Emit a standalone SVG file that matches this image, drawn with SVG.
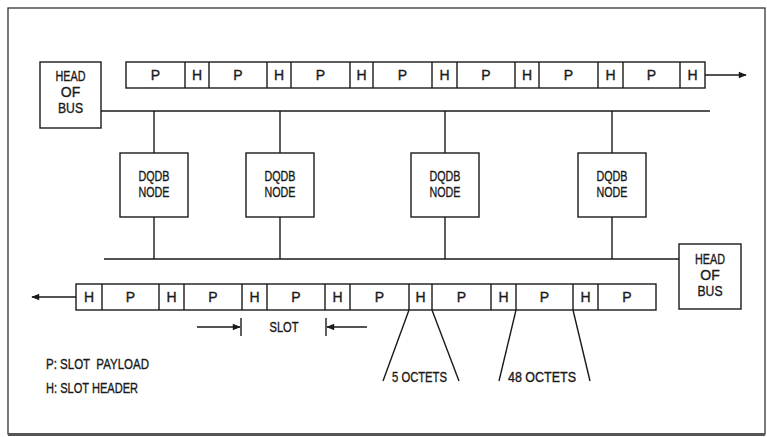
<svg xmlns="http://www.w3.org/2000/svg" width="767" height="437" viewBox="0 0 767 437">
<defs>
<style>
.t{font-family:"Liberation Sans Narrow","Liberation Sans",Arial,sans-serif;font-size:14px;fill:#1a1a1a;stroke:#1a1a1a;stroke-width:0.35;text-anchor:middle}
.l{text-anchor:start}
.box{fill:#fff;stroke:#1a1a1a;stroke-width:1.4}
.ln{fill:none;stroke:#1a1a1a;stroke-width:1.4}
.cell{fill:none;stroke:#1a1a1a;stroke-width:1.4}
</style>
<marker id="ah" viewBox="0 0 10 10" refX="9" refY="5" markerWidth="11" markerHeight="8" markerUnits="userSpaceOnUse" orient="auto">
<path d="M0,1 L10,5 L0,9 Z" fill="#1a1a1a"/>
</marker>
</defs>
<rect x="0" y="0" width="767" height="437" fill="#fff"/>
<rect x="8" y="8" width="757" height="426" fill="none" stroke="#333" stroke-width="1.3"/>
<line x1="8" y1="434.5" x2="765" y2="434.5" stroke="#555" stroke-width="3"/>

<g id="connectors">
<line class="ln" x1="100" y1="111" x2="710" y2="111"/>
<line class="ln" x1="104" y1="259" x2="679" y2="259"/>
<line class="ln" x1="154" y1="111" x2="154" y2="153"/>
<line class="ln" x1="280" y1="111" x2="280" y2="153"/>
<line class="ln" x1="445" y1="111" x2="445" y2="153"/>
<line class="ln" x1="612" y1="111" x2="612" y2="153"/>
<line class="ln" x1="154" y1="217" x2="154" y2="259"/>
<line class="ln" x1="280" y1="217" x2="280" y2="259"/>
<line class="ln" x1="445" y1="217" x2="445" y2="259"/>
<line class="ln" x1="612" y1="217" x2="612" y2="259"/>
<line class="ln" x1="705" y1="75" x2="746" y2="75" marker-end="url(#ah)"/>
<line class="ln" x1="76" y1="297" x2="32" y2="297" marker-end="url(#ah)"/>
<line class="ln" x1="197" y1="327" x2="240" y2="327" marker-end="url(#ah)"/>
<line class="ln" x1="367" y1="327" x2="327" y2="327" marker-end="url(#ah)"/>
<line class="ln" x1="241" y1="318" x2="241" y2="336"/>
<line class="ln" x1="326" y1="318" x2="326" y2="336"/>
<line class="ln" x1="409" y1="310" x2="383" y2="381"/>
<line class="ln" x1="432" y1="310" x2="459" y2="381"/>
<line class="ln" x1="516" y1="310" x2="499" y2="381"/>
<line class="ln" x1="573" y1="310" x2="590" y2="381"/>
</g>

<g id="head-top">
<rect class="box" x="40" y="62" width="61" height="66"/>
<text class="t" x="70.5" y="81" textLength="30" lengthAdjust="spacingAndGlyphs">HEAD</text>
<text class="t" x="70.5" y="97">OF</text>
<text class="t" x="70.5" y="113" textLength="25" lengthAdjust="spacingAndGlyphs">BUS</text>
</g>

<g id="head-bottom">
<rect class="box" x="679" y="244" width="62" height="65"/>
<text class="t" x="710" y="264" textLength="30" lengthAdjust="spacingAndGlyphs">HEAD</text>
<text class="t" x="710" y="280">OF</text>
<text class="t" x="710" y="296" textLength="25" lengthAdjust="spacingAndGlyphs">BUS</text>
</g>

<g id="node1">
<rect class="box" x="120" y="153" width="68" height="64"/>
<text class="t" x="154" y="181" textLength="31" lengthAdjust="spacingAndGlyphs">DQDB</text>
<text class="t" x="154" y="197" textLength="31" lengthAdjust="spacingAndGlyphs">NODE</text>
</g>
<g id="node2">
<rect class="box" x="246" y="153" width="68" height="64"/>
<text class="t" x="280" y="181" textLength="31" lengthAdjust="spacingAndGlyphs">DQDB</text>
<text class="t" x="280" y="197" textLength="31" lengthAdjust="spacingAndGlyphs">NODE</text>
</g>
<g id="node3">
<rect class="box" x="411" y="153" width="68" height="64"/>
<text class="t" x="445" y="181" textLength="31" lengthAdjust="spacingAndGlyphs">DQDB</text>
<text class="t" x="445" y="197" textLength="31" lengthAdjust="spacingAndGlyphs">NODE</text>
</g>
<g id="node4">
<rect class="box" x="578" y="153" width="68" height="64"/>
<text class="t" x="612" y="181" textLength="31" lengthAdjust="spacingAndGlyphs">DQDB</text>
<text class="t" x="612" y="197" textLength="31" lengthAdjust="spacingAndGlyphs">NODE</text>
</g>

<g id="top-slots">
<rect class="cell" x="126" y="62" width="579" height="26"/>
<path class="ln" d="M185,62V88M209,62V88M267,62V88M291,62V88M350,62V88M373,62V88M432,62V88M457,62V88M515,62V88M539,62V88M598,62V88M623,62V88M680,62V88"/>
<text class="t" x="155.5" y="80">P</text>
<text class="t" x="197" y="80">H</text>
<text class="t" x="238" y="80">P</text>
<text class="t" x="279" y="80">H</text>
<text class="t" x="320.5" y="80">P</text>
<text class="t" x="361.5" y="80">H</text>
<text class="t" x="402.5" y="80">P</text>
<text class="t" x="444.5" y="80">H</text>
<text class="t" x="486" y="80">P</text>
<text class="t" x="527" y="80">H</text>
<text class="t" x="568.5" y="80">P</text>
<text class="t" x="610.5" y="80">H</text>
<text class="t" x="651.5" y="80">P</text>
<text class="t" x="692.5" y="80">H</text>
</g>

<g id="bottom-slots">
<rect class="cell" x="76" y="284" width="580" height="26"/>
<path class="ln" d="M102,284V310M159,284V310M184,284V310M242,284V310M267,284V310M325,284V310M350,284V310M409,284V310M432,284V310M491,284V310M516,284V310M573,284V310M598,284V310"/>
<text class="t" x="89" y="302">H</text>
<text class="t" x="130.5" y="302">P</text>
<text class="t" x="171.5" y="302">H</text>
<text class="t" x="213" y="302">P</text>
<text class="t" x="254.5" y="302">H</text>
<text class="t" x="296" y="302">P</text>
<text class="t" x="337.5" y="302">H</text>
<text class="t" x="379.5" y="302">P</text>
<text class="t" x="420.5" y="302">H</text>
<text class="t" x="461.5" y="302">P</text>
<text class="t" x="503.5" y="302">H</text>
<text class="t" x="544.5" y="302">P</text>
<text class="t" x="585.5" y="302">H</text>
<text class="t" x="627" y="302">P</text>
</g>

<g id="labels">
<text class="t" x="284" y="332" textLength="29" lengthAdjust="spacingAndGlyphs">SLOT</text>
<text class="t" x="419.5" y="382" textLength="55" lengthAdjust="spacingAndGlyphs">5 OCTETS</text>
<text class="t" x="542" y="382" textLength="68" lengthAdjust="spacingAndGlyphs">48 OCTETS</text>
<text class="t l" x="46" y="369" textLength="103" lengthAdjust="spacingAndGlyphs" xml:space="preserve">P: SLOT  PAYLOAD</text>
<text class="t l" x="46" y="393" textLength="92" lengthAdjust="spacingAndGlyphs">H: SLOT HEADER</text>
</g>
</svg>
